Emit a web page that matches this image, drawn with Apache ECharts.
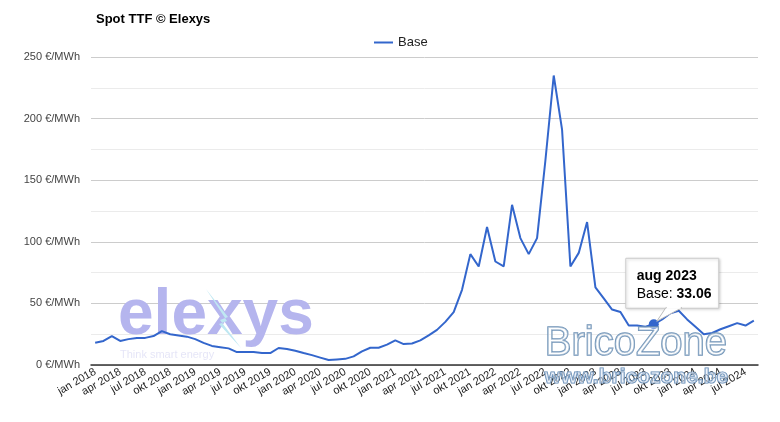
<!DOCTYPE html>
<html>
<head>
<meta charset="utf-8" />
<title>Spot TTF</title>
<script src="https://cdn.jsdelivr.net/npm/echarts@6/dist/echarts.min.js"></script>
<style>
  html, body { margin: 0; padding: 0; background: #fff; }
</style>
</head>
<body>
<div id="container" style="width: 780px; height: 422px;"></div>
<script type="text/javascript">
    // maanden jan 2018 - aug 2024
    var categories = [
        'jan 2018', 'feb 2018', 'mrt 2018', 'apr 2018', 'mei 2018', 'jun 2018', 'jul 2018', 'aug 2018', 'sep 2018', 'okt 2018', 'nov 2018', 'dec 2018',
        'jan 2019', 'feb 2019', 'mrt 2019', 'apr 2019', 'mei 2019', 'jun 2019', 'jul 2019', 'aug 2019', 'sep 2019', 'okt 2019', 'nov 2019', 'dec 2019',
        'jan 2020', 'feb 2020', 'mrt 2020', 'apr 2020', 'mei 2020', 'jun 2020', 'jul 2020', 'aug 2020', 'sep 2020', 'okt 2020', 'nov 2020', 'dec 2020',
        'jan 2021', 'feb 2021', 'mrt 2021', 'apr 2021', 'mei 2021', 'jun 2021', 'jul 2021', 'aug 2021', 'sep 2021', 'okt 2021', 'nov 2021', 'dec 2021',
        'jan 2022', 'feb 2022', 'mrt 2022', 'apr 2022', 'mei 2022', 'jun 2022', 'jul 2022', 'aug 2022', 'sep 2022', 'okt 2022', 'nov 2022', 'dec 2022',
        'jan 2023', 'feb 2023', 'mrt 2023', 'apr 2023', 'mei 2023', 'jun 2023', 'jul 2023', 'aug 2023', 'sep 2023', 'okt 2023', 'nov 2023', 'dec 2023',
        'jan 2024', 'feb 2024', 'mrt 2024', 'apr 2024', 'mei 2024', 'jun 2024', 'jul 2024', 'aug 2024'
    ];

    var baseValues = [
        18, 19.5, 23.5, 19.5, 21, 22, 22, 23.5, 27.5, 25, 24, 23,
        21, 18, 15.5, 14.5, 13.5, 10.5, 10.5, 10.5, 9.7, 9.7, 13.8, 13,
        11.5, 9.7, 8, 6, 4, 4.5, 5, 7, 11, 14, 14, 16.5,
        20, 17, 17.5, 20, 24, 28.5, 35, 43, 61, 90, 80, 112,
        84, 80, 130, 103, 90, 103, 166, 235, 191, 80, 91, 116,
        63, 54, 45, 43, 32, 32, 31, 33.06, 37, 42, 44, 37,
        31, 25, 26, 29, 31.5, 34, 32, 36
    ];

    var yTicks = [0, 50, 100, 150, 200, 250];
    var tipIndex = 67; // aug 2023

    // vaste tooltip op aug 2023 (box + staartje), via de assen gepositioneerd
    function renderTip(params, api) {
        var p = api.coord([api.value(0), api.value(1)]);
        var bx = p[0] - 28, by = p[1] - 66, bw = 93, bh = 50;
        return {
            type: 'group',
            children: [
                {
                    type: 'rect',
                    shape: { x: bx, y: by, width: bw, height: bh },
                    style: {
                        fill: '#fff', stroke: '#ccc', lineWidth: 1,
                        shadowBlur: 3, shadowOffsetX: 1, shadowOffsetY: 1, shadowColor: 'rgba(0,0,0,0.2)'
                    }
                },
                {
                    type: 'polygon',
                    shape: { points: [[p[0] + 12, by + bh - 0.5], [p[0] + 3, p[1] - 3], [p[0] + 28, by + bh - 0.5]] },
                    style: { fill: '#fff', stroke: '#bbb', lineWidth: 1 }
                },
                {
                    type: 'rect',
                    shape: { x: p[0] + 13, y: by + bh - 2, width: 14, height: 2.5 },
                    style: { fill: '#fff' }
                },
                {
                    type: 'text',
                    x: bx + 11,
                    y: by + 9,
                    style: {
                        text: '{b|' + categories[tipIndex] + '}\n{n|Base: }{b|' + baseValues[tipIndex] + '}',
                        rich: {
                            b: { fontFamily: 'Arial', fontSize: 14, fontWeight: 'bold', fill: '#000', lineHeight: 18 },
                            n: { fontFamily: 'Arial', fontSize: 14, fill: '#000', lineHeight: 18 }
                        }
                    }
                }
            ]
        };
    }

    var chart = echarts.init(document.getElementById('container'));

    chart.setOption({
        animation: false,
        title: {
            text: 'Spot TTF © Elexys',
            left: 91,
            top: 8,
            textStyle: { fontFamily: 'Arial', fontSize: 13, fontWeight: 'bold', color: '#000' }
        },
        legend: {
            data: ['Base'],
            top: 31,
            left: 369,
            icon: 'rect',
            itemWidth: 19,
            itemHeight: 2,
            itemGap: 6,
            textStyle: { fontFamily: 'Arial', fontSize: 13, color: '#222' }
        },
        grid: {
            left: 91,
            right: 22,
            top: 57,
            bottom: 57
        },
        xAxis: {
            type: 'category',
            data: categories,
            boundaryGap: true,
            axisLine: { lineStyle: { color: '#333', width: 1.5 } },
            axisTick: { show: false },
            axisLabel: {
                interval: 2,
                rotate: 30,
                margin: 6,
                fontFamily: 'Arial',
                fontSize: 11,
                color: '#222'
            }
        },
        yAxis: {
            type: 'value',
            min: yTicks[0],
            max: yTicks[yTicks.length - 1],
            interval: 50,
            axisLine: { show: false },
            axisTick: { show: false },
            axisLabel: {
                margin: 11,
                fontFamily: 'Arial',
                fontSize: 11,
                color: '#444',
                formatter: '{value} €/MWh'
            },
            splitLine: { lineStyle: { color: '#ccc' } },
            minorTick: { show: false, splitNumber: 2 },
            minorSplitLine: { show: true, lineStyle: { color: '#ebebeb' } }
        },
        series: [
            {
                name: 'Base',
                type: 'line',
                data: baseValues,
                z: 5,
                showSymbol: false,
                color: '#3366cc',
                lineStyle: { width: 2, color: '#3366cc' },
                markPoint: {
                    symbol: 'circle',
                    symbolSize: 10,
                    label: { show: false },
                    itemStyle: { color: '#3366cc' },
                    data: [{ coord: [categories[tipIndex], baseValues[tipIndex]] }]
                }
            },
            {
                name: 'tip',
                type: 'custom',
                z: 20,
                silent: true,
                clip: false,
                renderItem: renderTip,
                data: [[tipIndex, baseValues[tipIndex]]]
            }
        ],
        graphic: [
            {
                type: 'text',
                z: 1,
                silent: true,
                left: 118,
                top: 284,
                style: {
                    text: 'elexys',
                    font: 'bold 64px Arial',
                    fill: '#b5b5ee'
                }
            },
            {
                type: 'polygon',
                z: 2,
                silent: true,
                shape: { points: [[206, 289], [228, 317], [220, 320], [241, 348], [219, 324], [227, 321]] },
                style: { fill: '#bfe8f2' }
            },
            {
                type: 'text',
                z: 1,
                silent: true,
                left: 120,
                top: 349,
                style: {
                    text: 'Think smart energy',
                    font: '11px Arial',
                    fill: 'rgba(170,170,230,0.3)'
                }
            },
            {
                type: 'text',
                z: 100,
                silent: true,
                left: 544,
                top: 323,
                style: {
                    text: 'BricoZone',
                    font: '40px Arial',
                    fill: 'rgba(255,255,255,0.4)',
                    stroke: '#6e92b6',
                    lineWidth: 1.5
                }
            },
            {
                type: 'text',
                z: 100,
                silent: true,
                left: 544,
                top: 366,
                style: {
                    text: 'www.bricozone.be',
                    font: 'bold 21px Arial',
                    fill: 'rgba(220,230,245,0.5)',
                    stroke: '#5d86b0',
                    lineWidth: 1.2
                }
            }
        ]
    });
</script>
</body>
</html>
